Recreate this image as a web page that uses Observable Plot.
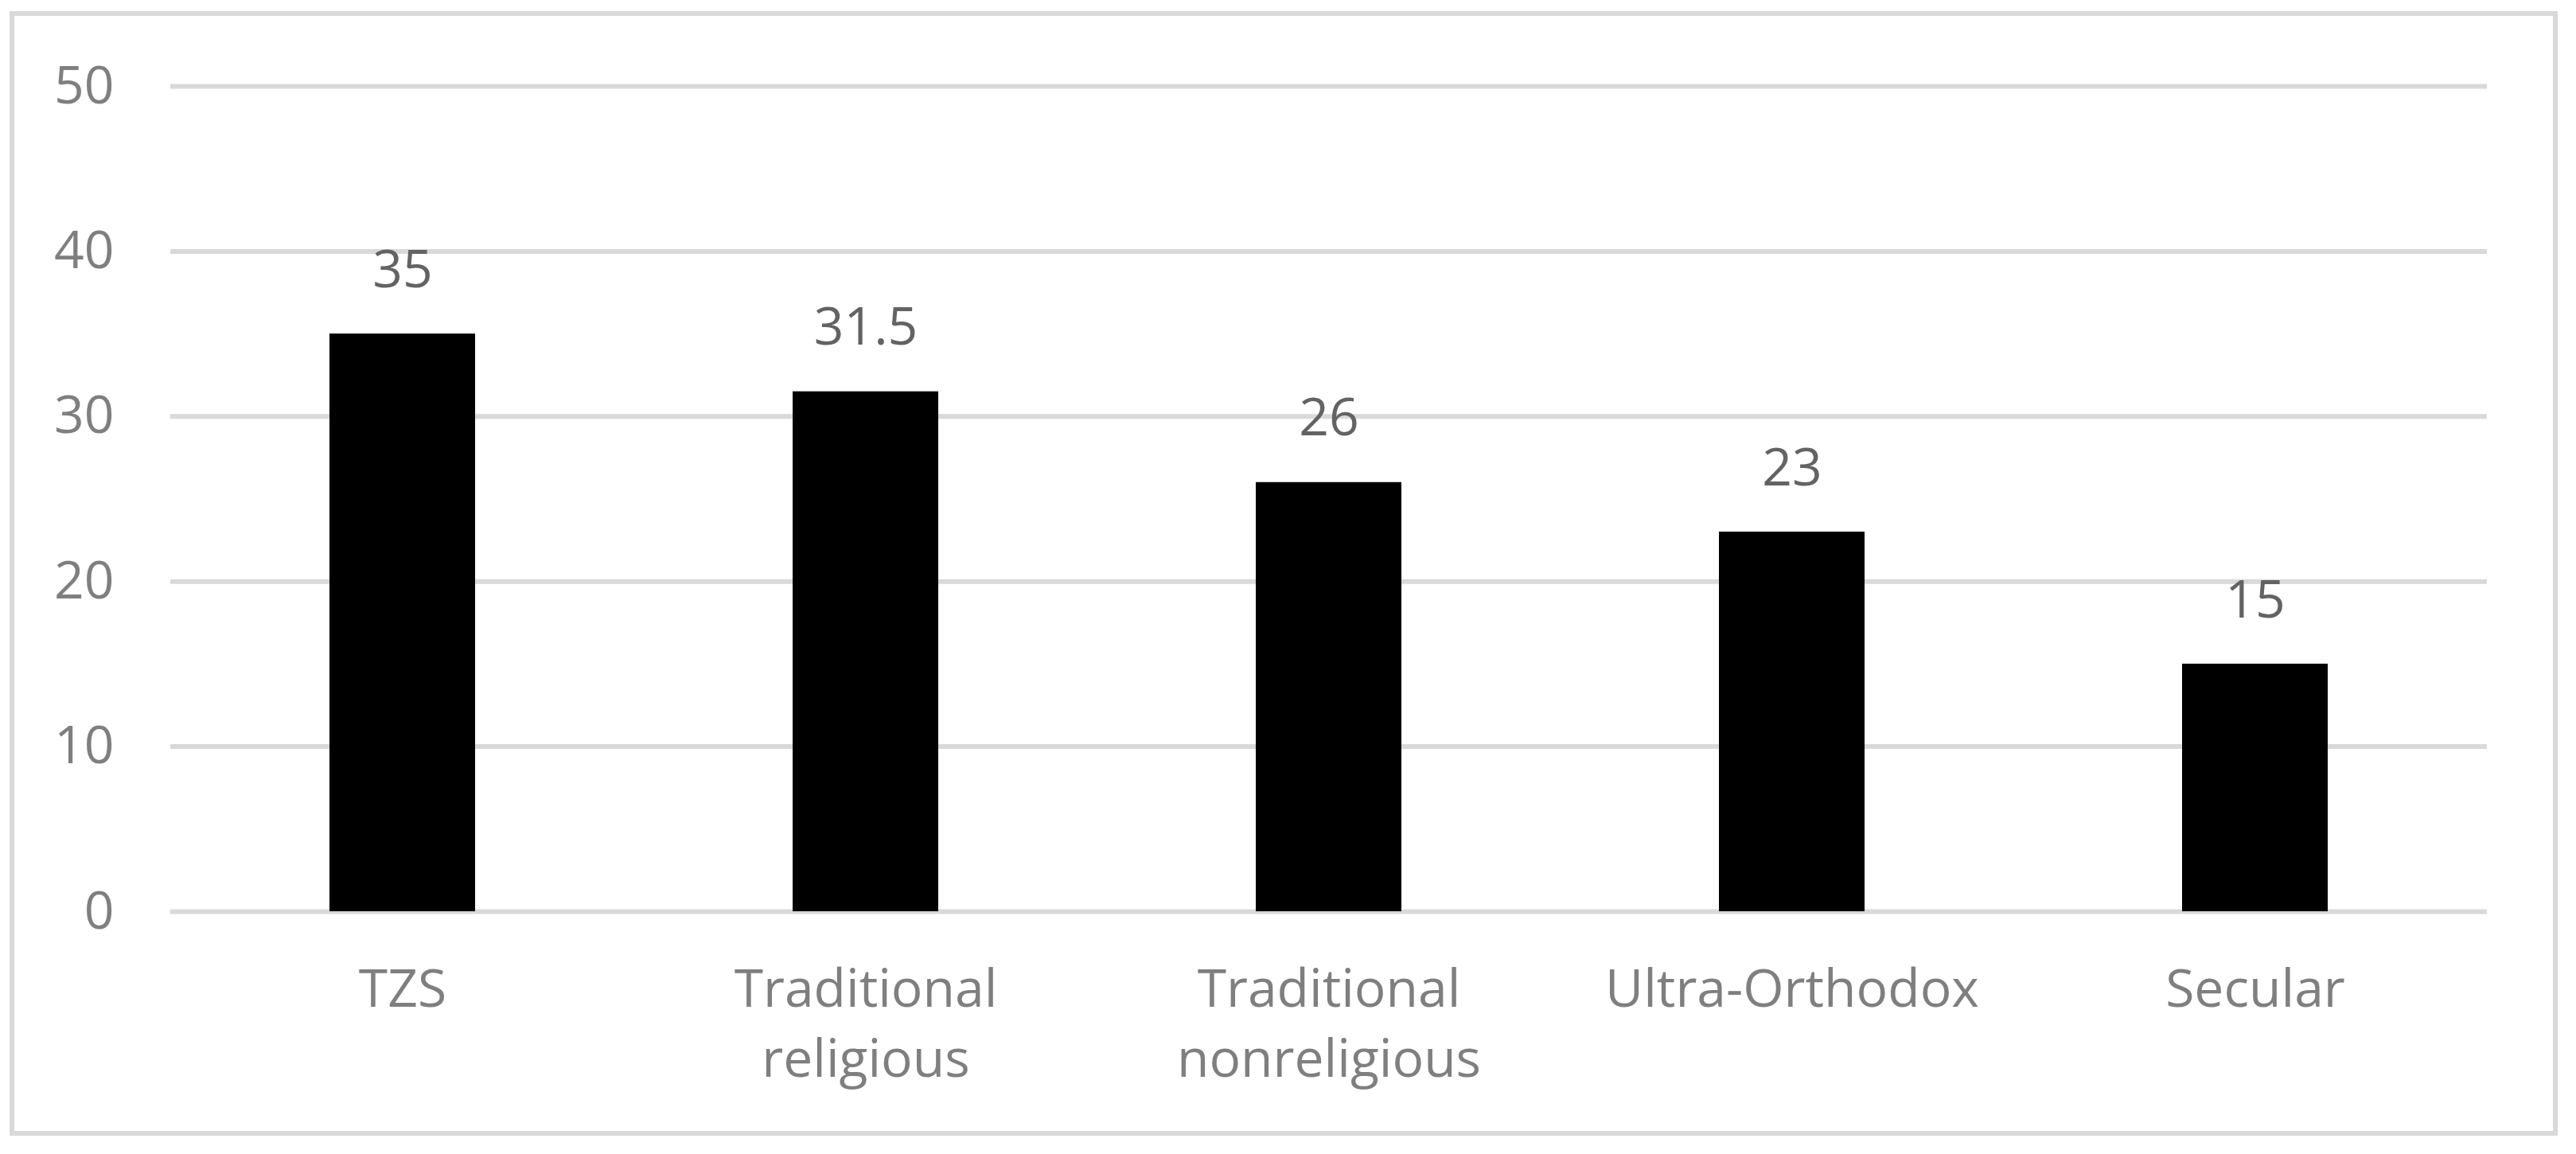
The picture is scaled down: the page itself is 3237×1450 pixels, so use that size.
<!DOCTYPE html>
<html>
<head>
<meta charset="utf-8">
<script src="https://cdn.jsdelivr.net/npm/d3@7"></script>
<script src="https://cdn.jsdelivr.net/npm/@observablehq/plot@0.6"></script>
<style>
  html, body { margin: 0; padding: 0; background: #fff; }
  #wrap { position: relative; width: 3237px; height: 1450px; overflow: hidden; }
  #frame { position: absolute; left: 12px; top: 14px; width: 3202px; height: 1413px;
           border: 6px solid #d9d9d9; box-sizing: border-box; pointer-events: none; }
  #chart { position: absolute; left: 0; top: 0; }
</style>
</head>
<body>
<div id="wrap"><div id="chart"></div><div id="frame"></div></div>
<script>
const categories = ["TZS", "Traditional\nreligious", "Traditional\nnonreligious", "Ultra-Orthodox", "Secular"];
const values = [35, 31.5, 26, 23, 15];
const yTicks = [0, 10, 20, 30, 40, 50];

const data = categories.map((c, i) => ({category: c, value: values[i]}));
const font = "'Open Sans', sans-serif";

const chart = Plot.plot({
  width: 3237,
  height: 1450,
  marginLeft: 214,
  marginRight: 112,
  marginTop: 108,
  marginBottom: 305,
  style: {fontFamily: font, background: "transparent"},
  x: {domain: categories, paddingInner: 0.686, paddingOuter: 0.343, label: null},
  y: {domain: [0, 50], label: null},
  marks: [
    Plot.gridY(yTicks, {stroke: "#d9d9d9", strokeOpacity: 1, strokeWidth: 6}),
    Plot.barY(data, {x: "category", y: "value", fill: "#000"}),
    Plot.text(data, {x: "category", y: "value", text: d => String(d.value),
      dy: -80, lineAnchor: "middle", fill: "#636363", fontSize: 66, fontFamily: font}),
    Plot.axisY({ticks: yTicks, tickSize: 0, tickPadding: 71, fontSize: 66,
      color: "#7f7f7f", fill: "#7f7f7f", label: null}),
    Plot.axisX({tickSize: 0, tickPadding: 57, fontSize: 66, lineHeight: 1.33,
      color: "#7f7f7f", fill: "#7f7f7f", label: null})
  ]
});
document.getElementById("chart").appendChild(chart);
</script>
</body>
</html>
